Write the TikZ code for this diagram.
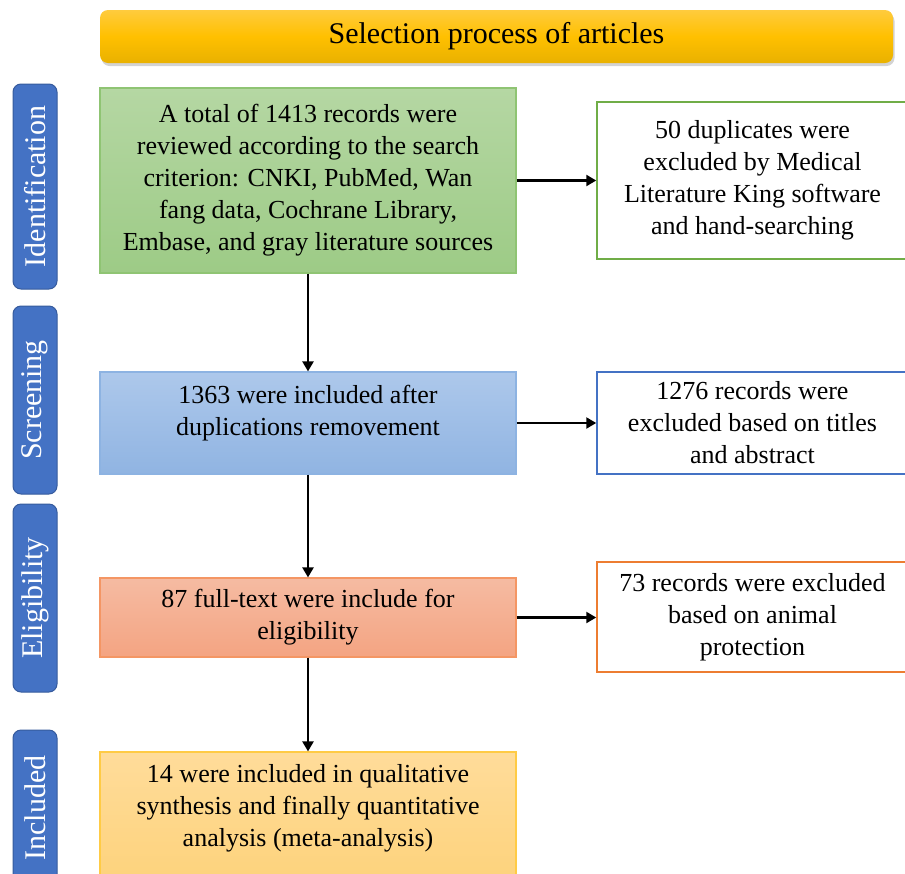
\documentclass[tikz,border=0pt]{standalone}
\usepackage{fontspec}
\setmainfont{Liberation Serif}
\usepackage{tikz}
\usetikzlibrary{arrows.meta}
\usetikzlibrary{positioning,shadows}
\usepackage{xcolor}
\definecolor{phaseblue}{HTML}{4472C4}
\definecolor{exgreen}{HTML}{70AD47}
\definecolor{exblue}{HTML}{4472C4}
\definecolor{exorange}{HTML}{ED7D31}
\newcommand{\stagefont}{\fontsize{26}{32}\selectfont}
\newcommand{\phasefont}{\fontsize{30}{36}\selectfont}

\begin{document}
\begin{tikzpicture}[x=1pt,y=-1pt]
  % Define styles for boxes and arrows
  \tikzset{
    banner/.style={
      rounded corners=8pt,
      top color={rgb,255:red,255;green,203;blue,61},
      bottom color={rgb,255:red,233;green,177;blue,0},
      middle color={rgb,255:red,255;green,192;blue,0},
      minimum width=793pt,
      minimum height=53pt,
      inner sep=0pt,
      drop shadow={shadow xshift=1.5pt, shadow yshift=-3pt, opacity=0.35},
      font=\phasefont
    },
    phase/.style={
      draw=phaseblue!80!black,
      fill=phaseblue,
      rounded corners=8pt,
      rotate=90,
      text=white,
      minimum height=44pt,
      inner sep=0pt,
      line width=1pt,
      font=\phasefont
    },
    stage/.style={
      minimum width=416pt,
      inner sep=0pt,
      line width=1.2pt,
      align=center,
      font=\stagefont
    },
    greenbox/.style={top color={rgb,255:red,181;green,215;blue,163}, bottom color={rgb,255:red,157;green,203;blue,134}, draw={rgb,255:red,143;green,196;blue,115}},
    bluebox/.style={top color={rgb,255:red,173;green,200;blue,235}, bottom color={rgb,255:red,144;green,180;blue,226}, draw={rgb,255:red,141;green,179;blue,226}},
    orangebox/.style={top color={rgb,255:red,245;green,187;blue,162}, bottom color={rgb,255:red,244;green,164;blue,130}, draw={rgb,255:red,244;green,150;blue,100}},
    yellowbox/.style={top color={rgb,255:red,255;green,220;blue,154}, bottom color={rgb,255:red,253;green,210;blue,122}, draw={rgb,255:red,255;green,203;blue,69}},
    excl/.style={
      draw,
      fill=white,
      minimum width=311pt,
      inner sep=0pt,
      line width=1.5pt,
      align=center,
      font=\stagefont
    },
    arrow/.style={
      draw=black,
      line width=2.3pt,
      -{Triangle[length=10pt, width=11pt]}
    }
  }
  \useasboundingbox (0,0) rectangle (905,873);

  % Title banner
  \node[banner] (title) at (496.5,36.5) {Selection process of articles};

  % Phase labels on the left
  \node[phase, minimum width=205pt] (ident) at (35,186.5) {Identification};
  \node[phase, minimum width=188pt] (screen) at (35,400) {Screening};
  \node[phase, minimum width=188pt] (elig) at (35,598) {Eligibility};
  \node[phase, minimum width=156pt] (incl) at (35,808) {Included};

  % Main flow
  \node[stage, greenbox, minimum height=185pt] (b1) at (308,180.5) {A total of 1413 records were\\ reviewed according to the search\\ criterion: CNKI, PubMed, Wan\\ fang data, Cochrane Library,\\ Embase, and gray literature sources};
  \node[stage, bluebox, minimum height=102pt] (b2) at (308,423) {};
  \node[align=center, font=\stagefont, inner sep=0pt] (b2text) at (308,413) {1363 were included after\\ duplications removement};
  \node[stage, orangebox, minimum height=79pt] (b3) at (308,617.5) {87 full-text were include for\\ eligibility};
  \node[stage, yellowbox, minimum height=138pt] (b4) at (308,821) {};
  \node[align=center, font=\stagefont, inner sep=0pt] (b4text) at (308,808) {14 were included in qualitative\\ synthesis and finally quantitative\\ analysis (meta-analysis)};

  % Excluded records on the right
  \node[excl, draw=exgreen, minimum height=157pt] (x1) at (752.5,180.5) {50 duplicates were\\ excluded by Medical\\ Literature King software\\ and hand-searching};
  \node[excl, draw=exblue, minimum height=102pt] (x2) at (752.5,423) {1276 records were\\ excluded based on titles\\ and abstract};
  \node[excl, draw=exorange, minimum height=110pt] (x3) at (752.5,617) {73 records were excluded\\ based on animal\\ protection};

  % Arrows
  \draw[arrow] (b1) -- (b2);
  \draw[arrow] (b2) -- (b3);
  \draw[arrow] (b3) -- (b4);
  \draw[arrow] (b1) -- (x1);
  \draw[arrow] (b2) -- (x2);
  \draw[arrow] (b3.east) -- (b3.east -| x3.west);
\end{tikzpicture}
\end{document}
